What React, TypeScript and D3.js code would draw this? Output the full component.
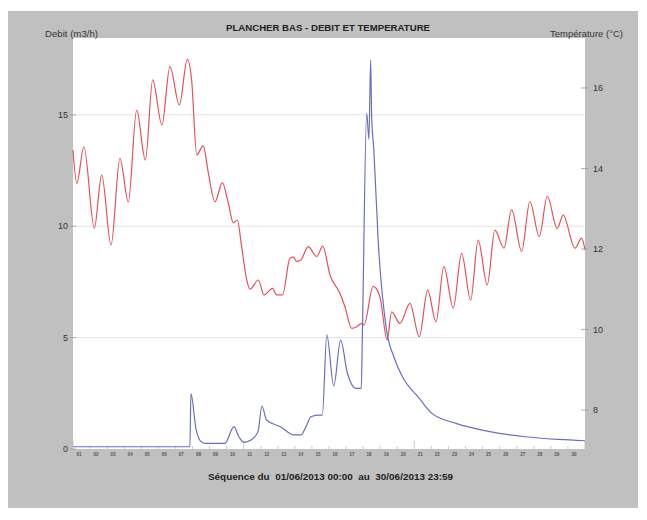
import React from 'react';
import * as d3 from 'd3';

// Time axis: days since 01/06/2013 00:00
const dayTicks = d3.range(0, 31);
const dayLabels = ['01','02','03','04','05','06','07','08','09','10','11','12','13','14','15','16','17','18','19','20','21','22','23','24','25','26','27','28','29','30'];

// Temperature (°C) – right axis
const tempDays = [0.0,0.22,0.64,1.25,1.68,2.23,2.75,3.24,3.73,4.24,4.67,5.21,5.68,6.23,6.70,6.95,7.25,7.63,7.93,8.32,8.75,9.10,9.39,9.63,9.88,10.18,10.37,10.86,11.19,11.70,11.93,12.28,12.71,12.91,13.10,13.34,13.78,14.28,14.63,15.06,15.64,15.93,16.33,16.62,16.91,17.05,17.59,17.98,18.41,18.67,19.16,19.74,20.29,20.78,21.27,21.73,22.28,22.77,23.30,23.74,24.27,24.72,25.25,25.70,26.29,26.77,27.32,27.79,28.37,28.72,29.41,29.80,30.0];
const tempValues = [14.46,13.63,14.54,12.52,13.84,12.10,14.25,13.17,15.45,14.21,16.20,15.08,16.53,15.58,16.71,16.20,14.34,14.56,13.89,13.17,13.65,13.14,12.65,12.72,12.06,11.23,11.00,11.23,10.86,11.02,10.86,10.86,11.77,11.80,11.69,11.72,12.06,11.81,12.07,11.35,10.90,10.57,10.03,10.07,10.15,10.11,11.07,10.82,9.74,10.44,10.15,10.65,9.82,10.98,10.19,11.56,10.53,11.89,10.73,12.22,11.11,12.47,12.02,12.97,11.94,13.18,12.31,13.31,12.51,12.84,12.02,12.27,11.98];

// Flow (m3/h) – left axis
const flowDays = [0,3,6.85,6.91,7.2,7.5,7.73,8.9,9.43,9.72,10.02,10.43,10.84,11.07,11.34,12.15,12.95,13.36,13.65,13.94,14.35,14.61,14.87,15.28,15.68,16.08,16.58,16.89,16.95,17.21,17.34,17.44,17.5,17.63,17.88,18.38,18.8,19.41,20.21,21.03,22.44,24.43,26.48,28.47,30];
const flowValues = [0.1,0.1,0.1,2.49,0.93,0.33,0.25,0.25,1.0,0.55,0.3,0.4,0.78,1.93,1.3,1.0,0.63,0.63,1.0,1.45,1.52,1.52,5.12,2.83,4.89,3.4,2.72,2.72,4.9,15.07,13.9,17.46,14.92,13.4,9.37,5.3,4.14,3.1,2.35,1.6,1.15,0.78,0.55,0.43,0.37];

const leftTicks = [0, 5, 10, 15];
const rightTicks = [8, 10, 12, 14, 16];

const title = 'PLANCHER BAS - DEBIT ET TEMPERATURE';
const leftTitle = 'Debit (m3/h)';
const rightTitle = 'Température (°C)';
const footer = 'Séquence du  01/06/2013 00:00  au  30/06/2013 23:59';

export default function App() {
  const W = 647, H = 520;
  const L = 73, R = 585, T = 38, B = 449;
  const x = d3.scaleLinear().domain([0, 30]).range([L, R]);
  const yL = d3.scaleLinear().domain([0, 18.45]).range([B, T]);
  const yR = d3.scaleLinear().domain([7.031, 17.242]).range([B, T]);

  const tempLine = d3.line<number>()
    .x((_, i) => x(tempDays[i]))
    .y((d) => yR(d))
    .curve(d3.curveMonotoneX);
  const flowLine = d3.line<number>()
    .x((_, i) => x(flowDays[i]))
    .y((d) => yL(d))
    .curve(d3.curveMonotoneX);

  const font = 'Liberation Sans, Arial, sans-serif';

  return (
    <div style={{ position: 'fixed', left: 0, top: 0, width: W, height: H, background: '#fff' }}>
      <svg width={W} height={H} style={{ display: 'block' }} fontFamily={font}>
        <rect x={8} y={11} width={630} height={497} fill="#c0c0c0" />
        <rect x={L} y={T} width={R - L} height={B - T} fill="#ffffff" />
        {/* gridlines */}
        {leftTicks.filter((t) => t > 0).map((t) => (
          <line key={'g' + t} x1={L} x2={R} y1={yL(t)} y2={yL(t)} stroke="#e4e4e4" strokeWidth={1} />
        ))}
        {/* x ticks inward */}
        {dayTicks.map((d) => (
          <line key={'xt' + d} x1={x(d)} x2={x(d)} y1={B} y2={B - (d % 10 === 0 ? 8 : 3)} stroke="#b8bcd0" strokeWidth={0.8} />
        ))}
        {/* data */}
        <path d={tempLine(tempValues) || ''} fill="none" stroke="#e5505c" strokeWidth={1.2} />
        <path d={flowLine(flowValues) || ''} fill="none" stroke="#6870bc" strokeWidth={1.2} />
        {/* left axis */}
        {leftTicks.map((t) => (
          <g key={'l' + t}>
            <line x1={L - 3} x2={L + 3} y1={yL(t)} y2={yL(t)} stroke="#999" strokeWidth={0.8} />
            <text x={L - 5} y={yL(t)} dy="0.35em" textAnchor="end" fontSize={9} fill="#333">{t}</text>
          </g>
        ))}
        {/* right axis */}
        {rightTicks.map((t) => (
          <g key={'r' + t}>
            <line x1={R - 4} x2={R + 3} y1={yR(t)} y2={yR(t)} stroke="#999" strokeWidth={0.8} />
            <text x={R + 8} y={yR(t)} dy="0.35em" textAnchor="start" fontSize={9} fill="#333">{t}</text>
          </g>
        ))}
        {/* x labels (tiny) */}
        {dayLabels.map((lab, i) => (
          <text key={'xl' + i} x={x(i + 0.35)} y={456} textAnchor="middle" fontSize={4.5} fontWeight="bold" fill="#555">{lab}</text>
        ))}
        {/* titles */}
        <text x={328} y={31} textAnchor="middle" fontSize={9} fontWeight="bold" fill="#222" textLength={204} lengthAdjust="spacingAndGlyphs">{title}</text>
        <text x={45} y={37} textAnchor="start" fontSize={9} fill="#333" textLength={53} lengthAdjust="spacingAndGlyphs">{leftTitle}</text>
        <text x={550} y={37} textAnchor="start" fontSize={9} fill="#333" textLength={73} lengthAdjust="spacingAndGlyphs">{rightTitle}</text>
        <text x={208} y={480} textAnchor="start" fontSize={9} fontWeight="bold" fill="#222" style={{ whiteSpace: 'pre' }} textLength={245} lengthAdjust="spacingAndGlyphs">{footer}</text>
      </svg>
    </div>
  );
}
